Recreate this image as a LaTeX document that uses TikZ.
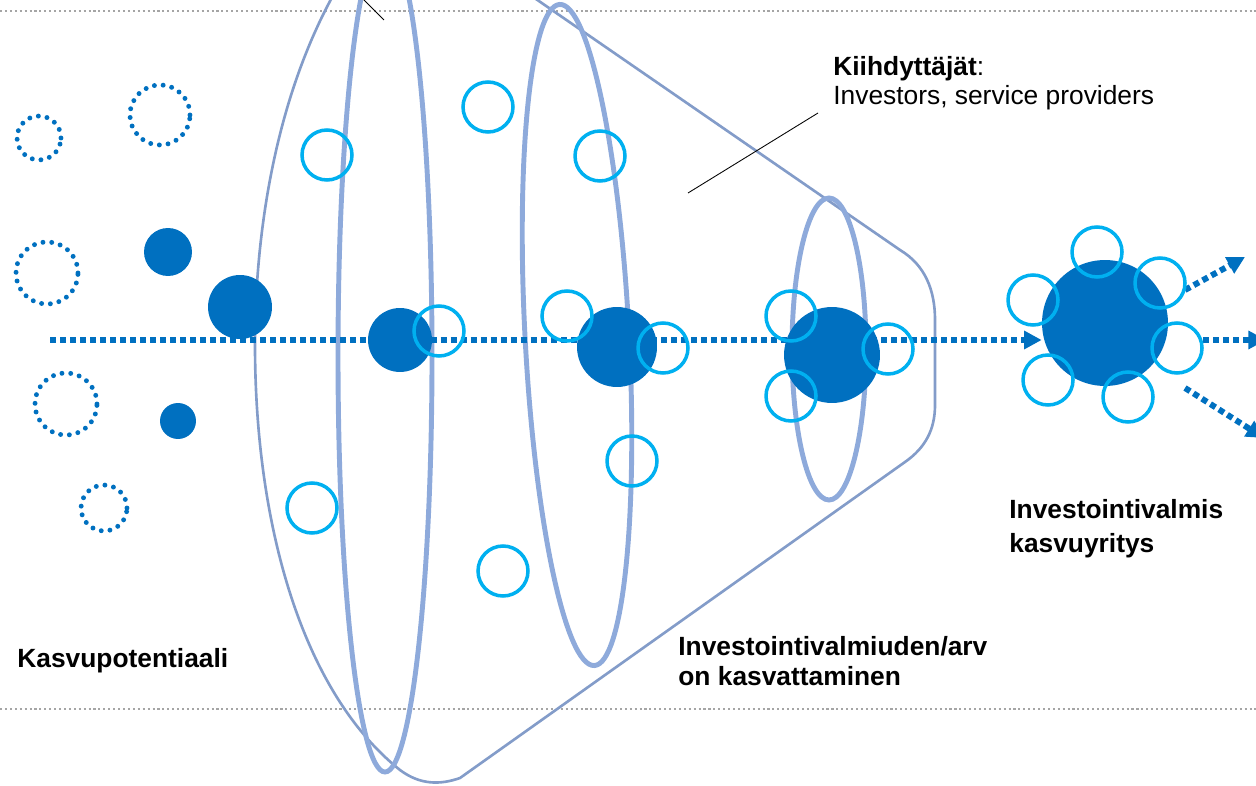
\documentclass[tikz,border=0pt]{standalone}
\usepackage{fontspec}
\setmainfont{Liberation Sans}
\usetikzlibrary{arrows.meta,backgrounds}

\definecolor{kblue}{RGB}{0,112,192}
\definecolor{lblue}{RGB}{0,176,240}
\definecolor{conec}{RGB}{142,170,219}
\definecolor{guide}{RGB}{165,165,165}

\begin{document}
\begin{tikzpicture}[x=0.02cm,y=-0.02cm,
	firm/.style={circle, fill=kblue, inner sep=0pt, minimum size=#1*0.04cm},
	ring/.style={circle, draw=lblue, line width=2pt, inner sep=0pt, minimum size=1cm},
	dotring/.style={circle, draw=kblue, line width=2.8pt, line cap=round, dash pattern=on 0pt off 5pt, inner sep=0pt, minimum size=#1*0.04cm},
	flow/.style={kblue, line width=3.4pt, dash pattern=on 3.4pt off 2.3pt, -{Triangle[length=10pt,width=10pt]}},
	stage/.style={conec, line width=2.8pt},
	funnel/.style={conec!92!black, line width=1.5pt},
	guideline/.style={guide, line width=1.2pt, dash pattern=on 1.2pt off 1.6pt},
	pointer/.style={black, line width=0.5pt},
	lbl/.style={inner sep=0pt, anchor=base west, align=left, font=\fontsize{15}{17}\selectfont}]

	%Canvas in pixels of the original slide, y downwards
	\useasboundingbox (0,0) rectangle (1256,786);
	\clip (0,0) rectangle (1256,786);

	%Height of the main flow line
	\pgfmathsetmacro{\ly}{340}

	%Growth potential: dotted firms on the left
	\node[dotring=22] (pot1) at (39,138) {};
	\node[dotring=30] (pot2) at (160,115) {};
	\node[dotring=31] (pot3) at (47,273) {};
	\node[dotring=31] (pot4) at (66,404) {};
	\node[dotring=23] (pot5) at (104,508) {};

	%Firms growing through the funnel
	\node[firm=24] (f1) at (168,252) {};
	\node[firm=32] (f2) at (240,307) {};
	\node[firm=18] (f3) at (178,421) {};
	\node[firm=32] (f4) at (400,\ly) {};
	\node[firm=40] (f5) at (617,347) {};
	\node[firm=48] (f6) at (832,355) {};
	\node[firm=63] (hub) at (1105,323) {};

	%Accelerators: investors and service providers
	\foreach \x/\y [count=\i] in {327/155, 488/107, 600/156, 439/331, 567/316, 663/348,
		632/461, 312/508, 503/571, 791/316, 791/396, 888/349,
		1097/252, 1033/300, 1160/283, 1177/348, 1048/380, 1128/397}
		\node[ring] (acc\i) at (\x,\y) {};

	\begin{pgfonlayer}{background}
		%Dotted guide lines top and bottom
		\draw[guideline] (0,11) -- (1256,11);
		\draw[guideline] (0,709) -- (1256,709);

		%Outline of the funnel
		\draw[funnel] (345,-25) .. controls (280,80) and (255,220) .. (255,345)
			.. controls (255,520) and (300,690) .. (400,770)
			.. controls (420,785) and (440,785) .. (460,778) -- (905,462)
			.. controls (925,448) and (935,430) .. (935,405) -- (935,320)
			.. controls (935,290) and (925,265) .. (900,250) -- (520,-12);

		%The three stages
		\draw[stage] (385,356) ellipse [x radius=47, y radius=416];
		\draw[stage, rotate around={3:(577,335)}] (577,335) ellipse [x radius=52, y radius=331];
		\draw[stage] (829,349) ellipse [x radius=37, y radius=151];

		%Main flow into the ready firm
		\coordinate (src) at (50,\ly);
		\draw[flow] (src) -- (src -| hub.west);

		%Flows out of the ready firm
		\coordinate (o1) at (1203,\ly);
		\coordinate (e1) at (1266,\ly);
		\coordinate (o2) at (1185,290);
		\coordinate (e2) at (1245,257);
		\coordinate (o3) at (1185,388);
		\coordinate (e3) at (1264,438);
		\draw[flow] (o1) -- (e1);
		\draw[flow] (o2) -- (e2);
		\draw[flow] (o3) -- (e3);
	\end{pgfonlayer}

	%Labels (base = baseline of the last line)
	\node[lbl] (accel) at (833,105) {\textbf{Kiihdyttäjät}:\\Investors, service providers};
	\node[lbl, font=\fontsize{15}{19}\selectfont\bfseries] (ready) at (1009,552) {Investointivalmis\\kasvuyritys};
	\node[lbl, font=\fontsize{15}{17}\selectfont\bfseries] (growth) at (678,685) {Investointivalmiuden/arv\\on kasvattaminen};
	\node[lbl, font=\fontsize{15}{17}\selectfont\bfseries] (potential) at (17,667) {Kasvupotentiaali};

	%Pointer lines
	\coordinate (kfoot) at (818,113);
	\coordinate (ktip) at (688,193);
	\draw[pointer] (kfoot) -- (ktip);
	\coordinate (tfoot) at (384,20);
	\coordinate (ttail) at (360,-4);
	\draw[pointer] (tfoot) -- (ttail);

\end{tikzpicture}
\end{document}
